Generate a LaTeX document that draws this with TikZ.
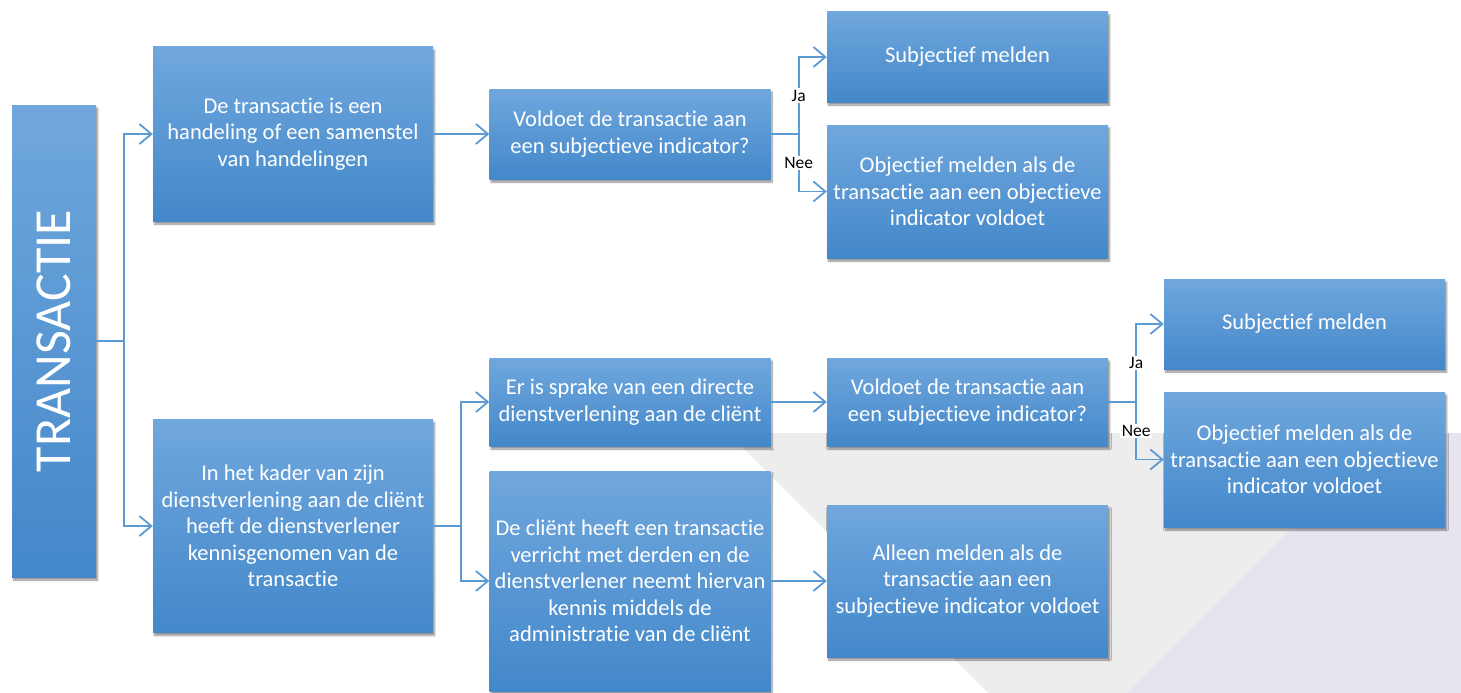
\documentclass[tikz,border=0pt]{standalone}
\usepackage{fontspec}
\setmainfont{Carlito}[Ligatures=NoCommon]
\usetikzlibrary{arrows.meta,shadows.blur}

\definecolor{boxtop}{RGB}{112,167,221}
\definecolor{boxbot}{RGB}{67,136,202}
\definecolor{linkblue}{RGB}{91,155,213}
\definecolor{bggray}{RGB}{237,237,238}
\definecolor{bglilac}{RGB}{231,228,240}

\begin{document}
\begin{tikzpicture}[
    x=1pt, y=-1pt,
    >={Straight Barb[length=12pt,width=20pt]},
    box/.style={rectangle, inner sep=2pt, align=center, text=white,
                top color=boxtop, bottom color=boxbot, draw=none,
                font=\fontsize{22.5}{26.5}\selectfont,
                minimum width=281pt,
                blur shadow={shadow xshift=1.5pt, shadow yshift=-3pt,
                             shadow blur steps=6, shadow opacity=45}},
    conn/.style={draw=linkblue, line width=1.8pt, ->},
    lbl/.style={fill=white, inner sep=1.5pt, text=black,
                font=\fontsize{17.5}{19}\selectfont},
  ]
  \useasboundingbox (0,0) rectangle (1461,693);
  % background panels
  \fill[bggray] (728,433) -- (1461,433) -- (1461,693) -- (988,693) -- cycle;
  \fill[bglilac] (1387,433) -- (1461,433) -- (1461,693) -- (1127,693) -- cycle;

  \node[box, minimum width=84pt, minimum height=472pt] (trans) at (54,341) {};
  \node[rotate=90, text=white, font=\fontsize{52}{56}\selectfont] (transtxt) at (trans.center) {TRANSACTIE};

  \node[box, minimum width=280pt, minimum height=174pt] (hand) at (293,134)
    {De transactie is een\\handeling of een samenstel\\van handelingen};
  \node[box, minimum width=280pt, minimum height=213pt] (kader) at (293,526)
    {In het kader van zijn\\dienstverlening aan de cliënt\\heeft de dienstverlener\\kennisgenomen van de\\transactie};

  \node[box, minimum height=90pt] (vold1) at (630,134)
    {Voldoet de transactie aan\\een subjectieve indicator?};
  \node[box, minimum height=90pt] (subj1) at (967.5,57) {Subjectief melden};
  \node[box, minimum height=133pt] (obj1) at (967.5,191.5)
    {Objectief melden als de\\transactie aan een objectieve\\indicator voldoet};

  \node[box, minimum height=88pt] (direct) at (630,402)
    {Er is sprake van een directe\\dienstverlening aan de cliënt};
  \node[box, minimum height=220pt] (derden) at (630,581)
    {De cliënt heeft een transactie\\verricht met derden en de\\dienstverlener neemt hiervan\\kennis middels de\\administratie van de cliënt};

  \node[box, minimum height=88pt] (vold2) at (967.5,402)
    {Voldoet de transactie aan\\een subjectieve indicator?};
  \node[box, minimum height=152pt] (alleen) at (967.5,581)
    {Alleen melden als de\\transactie aan een\\subjectieve indicator voldoet};

  \node[box, minimum height=90pt] (subj2) at (1304.5,324) {Subjectief melden};
  \node[box, minimum height=135pt] (obj2) at (1304.5,459.5)
    {Objectief melden als de\\transactie aan een objectieve\\indicator voldoet};

  % connectors
  \draw[conn] (trans.east) -- +(28,0) |- (hand.west);
  \draw[conn] (trans.east) -- +(28,0) |- (kader.west);
  \draw[conn] (hand.east) -- (vold1.west);
  \draw[conn] (vold1.east) -- +(28,0) |- node[lbl, pos=0.25] {Ja} (subj1.west);
  \draw[conn] (vold1.east) -- +(28,0) |- node[lbl, pos=0.25] {Nee} (obj1.west);
  \draw[conn] (kader.east) -- +(28,0) |- (direct.west);
  \draw[conn] (kader.east) -- +(28,0) |- (derden.west);
  \draw[conn] (direct.east) -- (vold2.west);
  \draw[conn] (derden.east) -- (alleen.west);
  \draw[conn] (vold2.east) -- +(28,0) |- node[lbl, pos=0.25] {Ja} (subj2.west);
  \draw[conn] (vold2.east) -- +(28,0) |- node[lbl, pos=0.25] {Nee} (obj2.west);
\end{tikzpicture}
\end{document}
